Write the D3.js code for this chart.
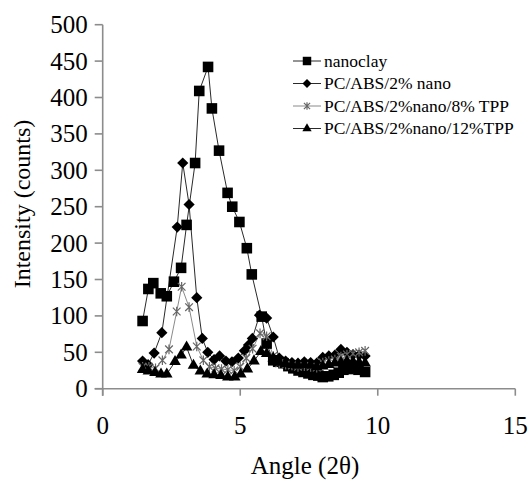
<!DOCTYPE html>
<html>
<head>
<meta charset="utf-8">
<script src="https://cdn.jsdelivr.net/npm/d3@7"></script>
<style>
  body { margin: 0; background: #fff; }
  text { font-family: 'Liberation Serif', 'Times New Roman', serif; fill: #000; }
</style>
</head>
<body>
<div id="chart"></div>
<script>
// series names in legend order
const seriesNames = [
  'nanoclay',
  'PC/ABS/2% nano',
  'PC/ABS/2%nano/8% TPP',
  'PC/ABS/2%nano/12%TPP'
]

// angle (2 theta) and intensity
const nanoclayX = [1.45, 1.66, 1.84, 2.11, 2.33, 2.59, 2.85, 3.05, 3.36, 3.51, 3.83, 3.97, 4.23, 4.54, 4.71, 4.97, 5.24, 5.42, 5.78, 5.96,
  6.2, 6.38, 6.57, 6.75, 6.93, 7.12, 7.3, 7.48, 7.66, 7.84, 8.0, 8.2, 8.4, 8.58, 8.75, 8.93, 9.1, 9.3, 9.54]
const nanoclayY = [93, 137, 145, 131, 127, 147, 166, 225, 310, 409, 442, 385, 327, 269, 250, 229, 193, 157, 99, 62,
  39, 37, 35, 31, 28, 25, 23, 21, 19, 18, 16, 17, 19, 22, 26, 27, 28, 26, 23]

const nanoX = [1.45, 1.65, 1.87, 2.15, 2.71, 2.91, 3.14, 3.42, 3.62, 3.82, 4.05, 4.25, 4.48, 4.7, 4.93, 5.15, 5.3, 5.44, 5.7, 5.96,
  6.2, 6.42, 6.65, 6.88, 7.1, 7.33, 7.56, 7.78, 8.0, 8.22, 8.44, 8.66, 8.88, 9.1, 9.32, 9.54]
const nanoY = [38, 33, 49, 77, 222, 310, 253, 125, 69, 50, 40, 45, 38, 37, 42, 52, 60, 69, 101, 97,
  71, 42, 38, 36, 35, 37, 36, 35, 43, 45, 46, 54, 50, 47, 46, 45]

const tpp8X = [1.45, 1.68, 1.92, 2.17, 2.41, 2.69, 2.87, 3.14, 3.42, 3.66, 3.88, 4.1, 4.32, 4.55, 4.78, 5.0, 5.22, 5.45, 5.72, 5.96,
  6.2, 6.42, 6.65, 6.88, 7.1, 7.33, 7.56, 7.78, 8.0, 8.22, 8.44, 8.66, 8.88, 9.1, 9.32, 9.54]
const tpp8Y = [30, 30, 28, 39, 54, 106, 140, 112, 58, 39, 30, 28, 27, 26, 25, 30, 42, 55, 76, 72,
  45, 35, 33, 32, 30, 31, 30, 29, 36, 38, 40, 44, 47, 48, 50, 52]

const tpp12X = [1.45, 1.66, 1.9, 2.12, 2.33, 2.63, 2.85, 3.05, 3.3, 3.55, 3.8, 4.05, 4.3, 4.55, 4.8, 5.02, 5.26, 5.5, 5.75, 5.96,
  6.2, 6.42, 6.65, 6.88, 7.1, 7.33, 7.56, 7.78, 8.0, 8.22, 8.44, 8.66, 8.88, 9.1, 9.32, 9.54]
const tpp12Y = [26, 24, 22, 20, 20, 37, 46, 57, 32, 24, 20, 19, 18, 16, 16, 20, 27, 38, 51, 48,
  42, 36, 34, 33, 32, 33, 32, 30, 31, 33, 35, 36, 38, 37, 36, 35]

const xTicks = [0, 5, 10, 15]
const yTicks = [0, 50, 100, 150, 200, 250, 300, 350, 400, 450, 500]

const width = 528
const height = 481
const margin = { top: 24.7, right: 12.7, bottom: 92.3, left: 102.7 }

const svg = d3
  .select('#chart')
  .append('svg')
  .attr('width', width)
  .attr('height', height)

const x = d3.scaleLinear().domain([0, 15]).range([margin.left, width - margin.right])
const y = d3.scaleLinear().domain([0, 500]).range([height - margin.bottom, margin.top])

// marker shapes
const squarePath = d3.symbol().type(d3.symbolSquare)
const trianglePath = d3.symbol().type(d3.symbolTriangle)
function diamondPath (r) {
  return `M0,${-r}L${r},0L0,${r}L${-r},0Z`
}
function starPath (r) {
  let a = r * 0.8
  return `M0,${-r}L0,${r}M${-a},${-a}L${a},${a}M${-a},${a}L${a},${-a}`
}

const series = [
  { name: seriesNames[0], xs: nanoclayX, ys: nanoclayY, line: '#2a2a2a', marker: 'square' },
  { name: seriesNames[1], xs: nanoX, ys: nanoY, line: '#2a2a2a', marker: 'diamond' },
  { name: seriesNames[2], xs: tpp8X, ys: tpp8Y, line: '#8a8a8a', marker: 'star' },
  { name: seriesNames[3], xs: tpp12X, ys: tpp12Y, line: '#2a2a2a', marker: 'triangle' }
]

function drawMarker (g, type, scale) {
  scale = scale || 1
  if (type === 'square') {
    g.append('path').attr('d', squarePath.size(112 * scale * scale)()).attr('fill', '#000')
  } else if (type === 'diamond') {
    g.append('path').attr('d', diamondPath(5.6 * scale)).attr('fill', '#000')
  } else if (type === 'triangle') {
    g.append('path').attr('d', trianglePath.size(58 * scale * scale)()).attr('fill', '#000')
  } else {
    g.append('path').attr('d', starPath(4.8 * scale))
      .attr('fill', 'none').attr('stroke', '#666').attr('stroke-width', 1.2)
  }
}

// axes
const axisColor = '#8c8c8c'
svg.append('line')
  .attr('x1', x(0)).attr('x2', x(0))
  .attr('y1', y(500)).attr('y2', y(0) + 7)
  .attr('stroke', axisColor).attr('stroke-width', 1.6)
svg.append('line')
  .attr('x1', x(0) - 8).attr('x2', x(15))
  .attr('y1', y(0)).attr('y2', y(0))
  .attr('stroke', axisColor).attr('stroke-width', 1.6)

svg.selectAll('.ytick')
  .data(yTicks)
  .enter()
  .append('line')
  .attr('class', 'ytick')
  .attr('x1', x(0) - 8).attr('x2', x(0))
  .attr('y1', d => y(d)).attr('y2', d => y(d))
  .attr('stroke', axisColor).attr('stroke-width', 1.6)

svg.selectAll('.xtick')
  .data(xTicks)
  .enter()
  .append('line')
  .attr('class', 'xtick')
  .attr('x1', d => x(d)).attr('x2', d => x(d))
  .attr('y1', y(0)).attr('y2', y(0) + 7)
  .attr('stroke', axisColor).attr('stroke-width', 1.6)

svg.selectAll('.ylabel')
  .data(yTicks)
  .enter()
  .append('text')
  .attr('class', 'ylabel')
  .attr('x', x(0) - 15)
  .attr('y', d => y(d))
  .attr('dy', '0.34em')
  .attr('text-anchor', 'end')
  .attr('font-size', 25)
  .text(d => d)

svg.selectAll('.xlabel')
  .data(xTicks)
  .enter()
  .append('text')
  .attr('class', 'xlabel')
  .attr('x', d => x(d))
  .attr('y', y(0) + 45)
  .attr('text-anchor', 'middle')
  .attr('font-size', 25)
  .text(d => d)

svg.append('text')
  .attr('x', 305)
  .attr('y', 474)
  .attr('text-anchor', 'middle')
  .attr('font-size', 25)
  .text('Angle (2θ)')

svg.append('text')
  .attr('transform', 'translate(30,204) rotate(-90)')
  .attr('text-anchor', 'middle')
  .attr('font-size', 24)
  .text('Intensity (counts)')

// lines then markers
const line = d3.line().x(d => x(d[0])).y(d => y(d[1]))

series.forEach(s => {
  let pts = s.xs.map((v, i) => [v, s.ys[i]])
  svg.append('path')
    .datum(pts)
    .attr('d', line)
    .attr('fill', 'none')
    .attr('stroke', s.line)
    .attr('stroke-width', 1)
})

series.forEach(s => {
  let pts = s.xs.map((v, i) => [v, s.ys[i]])
  svg.selectAll('.m-' + s.marker)
    .data(pts)
    .enter()
    .append('g')
    .attr('class', 'm-' + s.marker)
    .attr('transform', d => `translate(${x(d[0])},${y(d[1])})`)
    .each(function () { drawMarker(d3.select(this), s.marker) })
})

// legend
const legend = svg.append('g').attr('transform', 'translate(293,61)')
series.forEach((s, i) => {
  let row = legend.append('g').attr('transform', `translate(0,${i * 22.5})`)
  row.append('line')
    .attr('x1', 0).attr('x2', 28)
    .attr('stroke', s.line).attr('stroke-width', 1)
  let m = row.append('g').attr('transform', 'translate(14,0)')
  drawMarker(m, s.marker, 0.8)
  row.append('text')
    .attr('x', 31)
    .attr('dy', '0.34em')
    .attr('font-size', 17.5)
    .text(s.name)
})
</script>
</body>
</html>
